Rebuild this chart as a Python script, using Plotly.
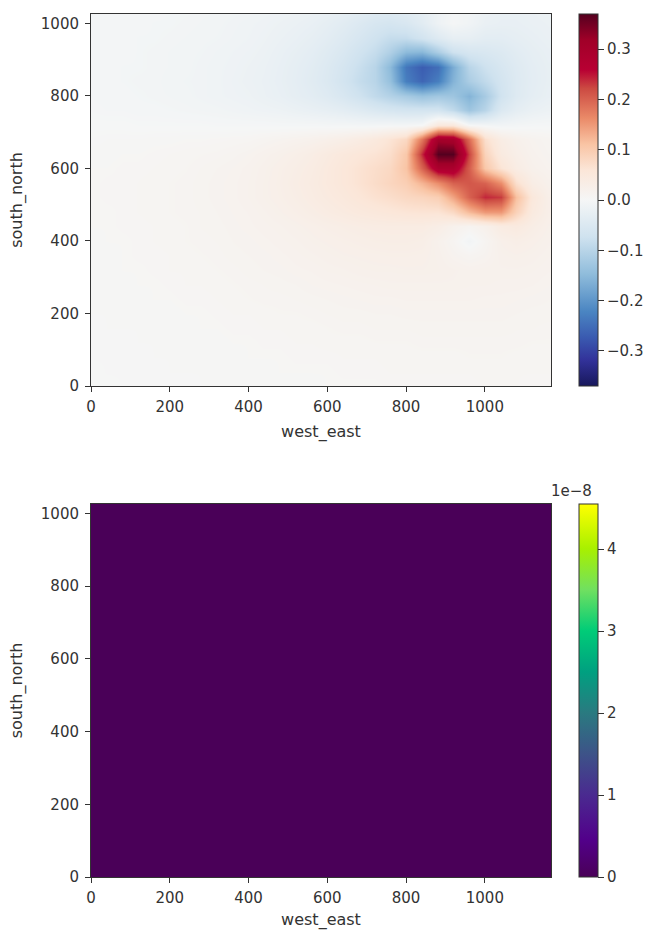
import plotly.graph_objects as go

# Column / row positions of the estimated field
west_east = list(range(0, 1200, 40))
south_north = list(range(0, 1080, 40))

# Estimated values (thousandths), one list per row
row_0000 = [1,1,2,2,2,2,2,3,3,3,3,4,4,4,4,5,5,5,5,6,6,6,6,6,6,7,7,7,6,6]
row_0040 = [1,2,2,2,2,3,3,3,3,4,4,4,5,5,5,5,6,6,6,7,7,7,7,7,7,8,8,7,7,7]
row_0080 = [2,2,2,2,3,3,3,3,4,4,5,5,5,6,6,6,7,7,7,8,8,8,8,8,9,9,9,8,8,8]
row_0120 = [2,2,2,3,3,3,4,4,4,5,5,6,6,7,7,8,8,8,9,9,9,10,10,10,10,10,10,10,9,9]
row_0160 = [2,3,3,3,3,4,4,5,5,6,6,7,7,8,8,9,10,10,11,11,11,12,12,12,12,12,12,11,11,10]
row_0200 = [3,3,3,4,4,4,5,5,6,7,7,8,9,9,10,11,12,12,13,13,14,14,14,14,14,14,14,13,12,12]
row_0240 = [3,3,4,4,5,5,6,6,7,8,9,10,10,11,12,13,14,15,16,16,17,17,17,17,17,16,16,15,14,13]
row_0280 = [3,4,4,5,5,6,7,7,8,9,10,11,12,13,15,16,17,18,19,20,20,20,20,20,19,19,18,18,17,15]
row_0320 = [4,4,5,5,6,7,7,8,9,10,12,13,14,16,17,19,20,22,23,23,24,24,23,21,19,20,20,20,19,17]
row_0360 = [4,4,5,6,6,7,8,9,10,12,13,14,16,18,20,22,24,25,26,27,27,26,22,15,10,14,22,24,22,19]
row_0400 = [4,5,5,6,7,8,9,10,11,13,14,16,18,20,23,25,27,29,31,32,32,30,20,10,-8,10,25,30,26,21]
row_0440 = [5,5,6,6,7,8,9,11,12,14,16,18,20,23,26,29,32,35,37,38,38,38,32,20,12,22,40,45,33,24]
row_0480 = [5,5,6,7,8,9,10,11,13,15,17,20,24,28,33,38,43,48,52,56,60,62,62,78,120,150,150,90,45,28]
row_0520 = [5,6,6,7,8,9,10,12,14,16,19,23,27,32,38,44,50,58,66,72,80,85,95,140,200,240,230,115,52,28]
row_0560 = [5,6,6,7,8,9,10,12,14,16,19,23,28,34,40,47,55,64,74,84,95,125,160,200,210,200,160,70,34,22]
row_0600 = [5,5,6,6,7,8,9,11,13,15,18,22,27,32,38,46,55,64,72,80,110,200,290,290,205,105,62,36,22,16]
row_0640 = [4,4,5,5,6,7,8,9,10,12,15,19,23,28,34,42,50,57,63,72,105,240,370,370,225,88,44,28,18,13]
row_0680 = [2,3,3,3,4,4,5,5,6,7,8,11,14,17,20,25,30,38,48,62,80,180,310,300,190,70,35,22,15,11]
row_0720 = [0,0,0,-1,-1,-1,-1,-1,-2,-2,-2,-2,-3,-3,-3,-4,-4,-5,-5,-3,-3,0,50,50,0,-5,-8,-5,-3,-2]
row_0760 = [-2,-3,-3,-4,-4,-5,-6,-7,-8,-10,-12,-14,-16,-20,-24,-28,-34,-42,-52,-60,-65,-65,-65,-90,-130,-100,-50,-32,-22,-17]
row_0800 = [-3,-4,-4,-5,-6,-7,-8,-10,-12,-14,-16,-20,-24,-30,-36,-44,-56,-72,-90,-105,-120,-135,-125,-130,-160,-120,-70,-45,-32,-25]
row_0840 = [-3,-4,-5,-6,-6,-8,-9,-10,-12,-15,-18,-21,-26,-32,-40,-50,-66,-85,-100,-140,-230,-260,-230,-160,-115,-90,-65,-46,-34,-27]
row_0880 = [-3,-4,-5,-5,-6,-7,-8,-10,-12,-14,-17,-20,-25,-31,-38,-48,-62,-80,-100,-150,-240,-270,-250,-170,-100,-75,-58,-44,-33,-27]
row_0920 = [-3,-4,-4,-5,-6,-7,-8,-9,-11,-13,-15,-18,-23,-28,-34,-43,-54,-70,-85,-110,-150,-155,-115,-75,-60,-55,-48,-38,-30,-25]
row_0960 = [-3,-3,-4,-5,-5,-6,-7,-8,-9,-11,-13,-16,-20,-24,-29,-36,-46,-58,-72,-85,-85,-68,-45,-28,-28,-35,-35,-30,-26,-22]
row_1000 = [-3,-3,-4,-4,-5,-5,-6,-7,-8,-10,-12,-14,-17,-20,-24,-30,-38,-48,-58,-62,-55,-38,-15,-2,-10,-22,-25,-25,-22,-20]
row_1040 = [-3,-3,-3,-4,-4,-5,-5,-6,-7,-8,-9,-11,-13,-15,-18,-22,-27,-33,-40,-42,-38,-30,-15,-5,-8,-18,-22,-22,-20,-18]

top_rows = [row_0000,row_0040,row_0080,row_0120,row_0160,row_0200,row_0240,row_0280,row_0320,
            row_0360,row_0400,row_0440,row_0480,row_0520,row_0560,row_0600,row_0640,row_0680,
            row_0720,row_0760,row_0800,row_0840,row_0880,row_0920,row_0960,row_1000,row_1040]
top_z = [[v / 1000 for v in r] for r in top_rows]

# Bottom panel: uniformly zero field, colour bar up to 4.55e-8
bottom_rows = [[0, 0], [0, 0]]
bottom_x = [0, 1168]
bottom_y = [0, 1026]
bottom_max = 4.55e-8

x_ticks = [0, 200, 400, 600, 800, 1000]
y_ticks = [0, 200, 400, 600, 800, 1000]
top_cb_ticks = [-0.3, -0.2, -0.1, 0.0, 0.1, 0.2, 0.3]
top_cb_labels = ["\u22120.3", "\u22120.2", "\u22120.1", "0.0", "0.1", "0.2", "0.3"]
bottom_cb_ticks = [0, 1e-8, 2e-8, 3e-8, 4e-8]
bottom_cb_labels = ["0", "1", "2", "3", "4"]

DIVERGING = [[0.0, "#18185c"], [0.07, "#32329a"], [0.13, "#3a5ab0"], [0.2, "#4a85c2"], [0.3, "#8fbcdb"],
             [0.4, "#cfe2ef"], [0.5, "#f5f6f6"], [0.58, "#fbe6d8"], [0.65, "#f9c4a4"], [0.72, "#ea8a68"],
             [0.8, "#cc4a42"], [0.85, "#b80033"], [0.93, "#a00028"], [1.0, "#55001f"]]
SEQUENTIAL = [[0.0, "#4a0058"], [0.1, "#52008a"], [0.22, "#4a2a90"], [0.33, "#3d5388"], [0.44, "#2a7a80"],
              [0.55, "#00a080"], [0.66, "#00cc78"], [0.77, "#70e060"], [0.88, "#a8f000"], [1.0, "#ffff00"]]

W, H = 652, 930
TXT = "#333333"
FONT = dict(family="DejaVu Sans", size=15, color=TXT)
TITLE_FONT = dict(family="DejaVu Sans", size=16, color=TXT)


def yfrac(p):
    return 1 - p / H


def cbar(top, bot, vals, labels):
    return dict(x=579 / W, xanchor="left", xpad=0, ypad=0, y=yfrac(bot), yanchor="bottom",
                len=(bot - top) / H, lenmode="fraction", thickness=19, thicknessmode="pixels",
                tickmode="array", tickvals=vals, ticktext=labels, ticks="outside", ticklen=6,
                tickwidth=1, tickcolor=TXT, outlinecolor=TXT, outlinewidth=1, tickfont=FONT)


fig = go.Figure()
fig.add_trace(go.Heatmap(x=west_east, y=south_north, z=top_z, zsmooth="best", colorscale=DIVERGING,
                         zmin=-0.37, zmax=0.37, xaxis="x", yaxis="y",
                         colorbar=cbar(14, 386, top_cb_ticks, top_cb_labels)))
fig.add_trace(go.Heatmap(x=bottom_x, y=bottom_y, z=bottom_rows, zsmooth=False, colorscale=SEQUENTIAL,
                         zmin=0, zmax=bottom_max, xaxis="x2", yaxis="y2",
                         colorbar=cbar(504, 877, bottom_cb_ticks, bottom_cb_labels)))

common = dict(showgrid=False, zeroline=False, showline=True, linecolor=TXT, linewidth=1, mirror=True,
              ticks="outside", ticklen=5, tickwidth=1, tickcolor=TXT, tickfont=FONT)
xdom = [91 / W, 551 / W]
fig.update_layout(
    width=W, height=H, margin=dict(l=0, r=0, t=0, b=0, autoexpand=False),
    paper_bgcolor="white", plot_bgcolor="white", font=FONT, showlegend=False,
    xaxis=dict(domain=xdom, range=[0, 1168], anchor="y", tickmode="array", tickvals=x_ticks, ticklabelstandoff=2,
               title=dict(text="west_east", font=TITLE_FONT, standoff=10), **common),
    yaxis=dict(domain=[yfrac(386), yfrac(14)], range=[0, 1026], anchor="x", tickmode="array", tickvals=y_ticks,
               ticklabelstandoff=3, title=dict(text="south_north", font=TITLE_FONT, standoff=14), **common),
    xaxis2=dict(domain=xdom, range=[0, 1168], anchor="y2", tickmode="array", tickvals=x_ticks, ticklabelstandoff=2,
                title=dict(text="west_east", font=TITLE_FONT, standoff=10), **common),
    yaxis2=dict(domain=[yfrac(877), yfrac(504)], range=[0, 1026], anchor="x2", tickmode="array", tickvals=y_ticks,
                ticklabelstandoff=3, title=dict(text="south_north", font=TITLE_FONT, standoff=14), **common),
    annotations=[dict(text="1e\u22128", xref="paper", yref="paper", x=571 / W, y=yfrac(502), xanchor="center",
                      yanchor="bottom", showarrow=False, font=FONT)],
)

fig.write_html("out.html", config=dict(displayModeBar=False), post_script="document.body.style.margin='0';")
